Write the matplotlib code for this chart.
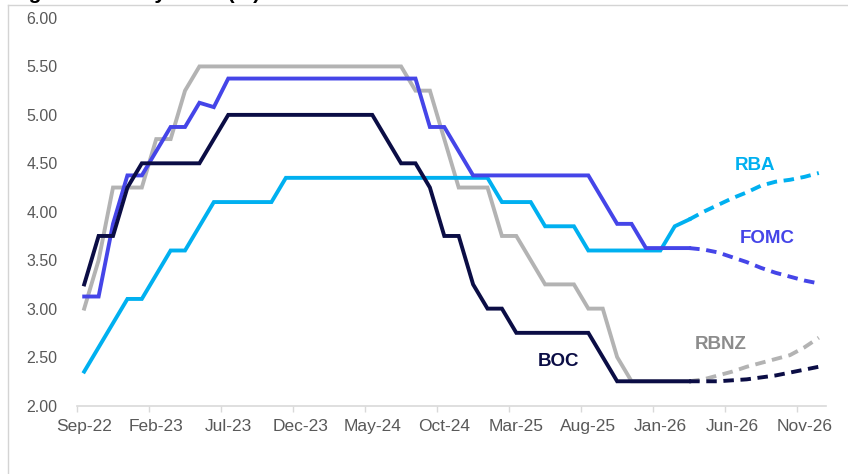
import numpy as np
import pandas as pd
import matplotlib
matplotlib.use("Agg")
import matplotlib.pyplot as plt
from matplotlib.lines import Line2D

plt.rcParams["font.family"] = ["Liberation Sans", "DejaVu Sans"]

# monthly, Sep-22 .. Dec-26
months = pd.date_range("2022-09-01", periods=52, freq="MS")
month_labels = [m.strftime("%b-%y") for m in months]
n_actual = 43  # Sep-22 .. Mar-26 solid, forecast from Mar-26

boc_actual = [3.25, 3.75, 3.75, 4.25, 4.50, 4.50, 4.50, 4.50, 4.50, 4.75,
              5.00, 5.00, 5.00, 5.00, 5.00, 5.00, 5.00, 5.00, 5.00, 5.00,
              5.00, 4.75, 4.50, 4.50, 4.25, 3.75, 3.75, 3.25, 3.00, 3.00,
              2.75, 2.75, 2.75, 2.75, 2.75, 2.75, 2.50, 2.25, 2.25, 2.25,
              2.25, 2.25, 2.25]
boc_fcst = [2.25, 2.25, 2.25, 2.26, 2.27, 2.29, 2.31, 2.34, 2.37, 2.40]

fomc_actual = [3.125, 3.125, 3.875, 4.375, 4.375, 4.625, 4.875, 4.875, 5.125, 5.08,
               5.375, 5.375, 5.375, 5.375, 5.375, 5.375, 5.375, 5.375, 5.375, 5.375,
               5.375, 5.375, 5.375, 5.375, 4.875, 4.875, 4.625, 4.375, 4.375, 4.375,
               4.375, 4.375, 4.375, 4.375, 4.375, 4.375, 4.125, 3.875, 3.875, 3.625,
               3.625, 3.625, 3.625]
fomc_fcst = [3.625, 3.61, 3.58, 3.53, 3.48, 3.42, 3.37, 3.33, 3.29, 3.26]

rba_actual = [2.35, 2.60, 2.85, 3.10, 3.10, 3.35, 3.60, 3.60, 3.85, 4.10,
              4.10, 4.10, 4.10, 4.10, 4.35, 4.35, 4.35, 4.35, 4.35, 4.35,
              4.35, 4.35, 4.35, 4.35, 4.35, 4.35, 4.35, 4.35, 4.35, 4.10,
              4.10, 4.10, 3.85, 3.85, 3.85, 3.60, 3.60, 3.60, 3.60, 3.60,
              3.60, 3.85, 3.92]
rba_fcst = [3.92, 4.00, 4.07, 4.14, 4.20, 4.27, 4.31, 4.33, 4.36, 4.40]

rbnz_actual = [3.00, 3.50, 4.25, 4.25, 4.25, 4.75, 4.75, 5.25, 5.50, 5.50,
               5.50, 5.50, 5.50, 5.50, 5.50, 5.50, 5.50, 5.50, 5.50, 5.50,
               5.50, 5.50, 5.50, 5.25, 5.25, 4.75, 4.25, 4.25, 4.25, 3.75,
               3.75, 3.50, 3.25, 3.25, 3.25, 3.00, 3.00, 2.50, 2.25, 2.25,
               2.25, 2.25, 2.25]
rbnz_fcst = [2.25, 2.27, 2.31, 2.35, 2.40, 2.44, 2.48, 2.52, 2.60, 2.70]

series = [
    ("RBNZ", rbnz_actual, rbnz_fcst, "#B3B3B3", "#8C8C8C", (44.2, 2.63)),
    ("RBA", rba_actual, rba_fcst, "#00B0F0", "#00B0F0", (46.6, 4.48)),
    ("FOMC", fomc_actual, fomc_fcst, "#4545E8", "#4545E8", (47.4, 3.72)),
    ("BOC", boc_actual, boc_fcst, "#0B0D45", "#0B0D45", (32.9, 2.45)),
]

W, H = 848, 474
fig = plt.figure(figsize=(W / 100, H / 100), dpi=100)
ax = fig.add_axes([77 / W, 1 - 405.5 / H, 749 / W, (405.5 - 18) / H])

x_act = np.arange(n_actual)
x_fc = np.arange(n_actual - 1, len(months))
for name, act, fc, col, lab_col, pos in series:
    ax.plot(x_act, act, color=col, lw=2.8, solid_joinstyle="miter")
    ax.plot(x_fc, fc, color=col, lw=2.8, dashes=(2.7, 1.7), dash_capstyle="butt")
    ax.text(pos[0], pos[1], name, color=lab_col, fontsize=13.5,
            fontweight="bold", ha="center", va="center")

ax.set_xlim(-0.5, len(months) - 0.5)
ax.set_ylim(2, 6)
ax.set_yticks(np.arange(2, 6.01, 0.5))
ax.set_yticklabels([f"{v:.2f}" for v in np.arange(2, 6.01, 0.5)])
ax.set_xticks(np.arange(0, len(months), 5))
ax.set_xticklabels(month_labels[::5], family=["Liberation Sans Narrow", "Liberation Sans"])
ax.set_xticks(np.arange(-0.5, len(months) - 1, 5), minor=True)

ax.tick_params(axis="y", length=0, pad=14, labelsize=11.5, labelcolor="#595959")
ax.tick_params(axis="x", which="major", length=0, pad=10, labelsize=12.5, labelcolor="#595959")
ax.tick_params(axis="x", which="minor", length=4, width=1, color="#D9D9D9")

for s in ["top", "right", "left"]:
    ax.spines[s].set_visible(False)
ax.spines["bottom"].set_color("#D9D9D9")
ax.spines["bottom"].set_linewidth(1.2)

# screenshot frame + clipped title
fig.add_artist(Line2D([8 / W, 8 / W], [0, 1 - 5 / H], transform=fig.transFigure,
                      color="#D4D4D4", lw=1))
fig.add_artist(Line2D([8 / W, 1], [1 - 5 / H, 1 - 5 / H], transform=fig.transFigure,
                      color="#D4D4D4", lw=1))
fig.text(10 / W, 1 + 1 / H, "Figure 1: Policy rates (%)", fontsize=15,
         fontweight="bold", va="baseline", ha="left", color="black")

fig.savefig("out.png", dpi=100)
